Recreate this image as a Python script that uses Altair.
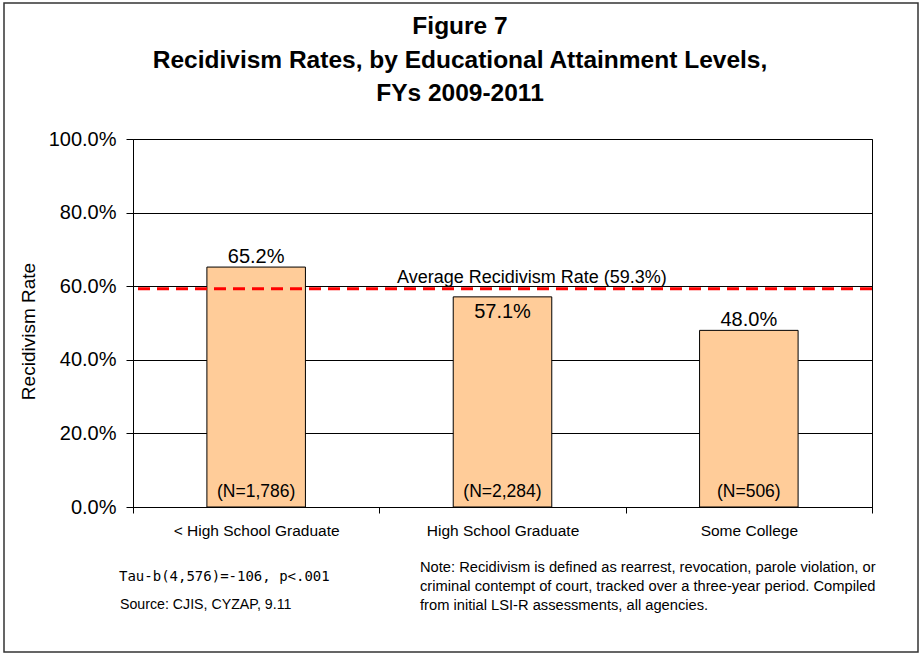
import json

import altair as alt
import pandas as pd

# --- data -------------------------------------------------------------------
categories = ["< High School Graduate", "High School Graduate", "Some College"]
rates = [0.652, 0.571, 0.480]
sample_sizes = ["1,786", "2,284", "506"]
average_rate = 0.593
y_ticks = [0.0, 0.2, 0.4, 0.6, 0.8, 1.0]

title_lines = [
    "Figure 7",
    "Recidivism Rates, by Educational Attainment Levels,",
    "FYs 2009-2011",
]
stat_line = "Tau-b(4,576)=-106, p<.001"
source_line = "Source: CJIS, CYZAP, 9.11"
note_lines = [
    "Note: Recidivism is defined as rearrest, revocation, parole violation, or",
    "criminal contempt of court, tracked over a three-year period. Compiled",
    "from initial LSI-R assessments, all agencies.",
]
# value label drawn just inside the top of the bar instead of above it
inside_label = ["High School Graduate"]

df = pd.DataFrame({"category": categories, "rate": rates, "n": sample_sizes})
avg_df = pd.DataFrame(
    {"rate": [average_rate], "label": [f"Average Recidivism Rate ({average_rate:.1%})"]}
)

FONT = "Liberation Sans"
W, H = 739, 368

x_enc = alt.X(
    "category:N",
    sort=categories,
    scale=alt.Scale(paddingInner=0, paddingOuter=0),
    axis=alt.Axis(
        title=None,
        labelAngle=0,
        tickBand="extent",
        tickSize=6,
        labelPadding=10,
        labelFontSize=15.5,
        labelFont=FONT,
        labelColor="black",
        tickColor="black",
        domainColor="black",
        grid=False,
    ),
)
y_enc = alt.Y(
    "rate:Q",
    scale=alt.Scale(domain=[0, 1], nice=False),
    axis=alt.Axis(
        values=y_ticks,
        format=".1%",
        title="Recidivism Rate",
        titleFont=FONT,
        titleFontSize=19,
        titleFontWeight="normal",
        titleColor="black",
        titlePadding=10,
        titleY=192,
        labelFont=FONT,
        labelFontSize=20,
        labelColor="black",
        labelPadding=10,
        tickSize=7,
        tickColor="black",
        domainColor="black",
        grid=True,
        gridColor="black",
        gridOpacity=1,
    ),
)

base = alt.Chart(df).encode(x=x_enc)

bars = base.mark_bar(
    width=alt.RelativeBandSize(0.4), color="#FFCC99", stroke="black", strokeWidth=1
).encode(y=y_enc)

inside_expr = "indexof(%s, datum.category) >= 0" % json.dumps(inside_label)

labels_above = base.transform_filter("!(" + inside_expr + ")").mark_text(
    baseline="alphabetic", dy=-4, fontSize=20, font=FONT, color="black"
).encode(y="rate:Q", text=alt.Text("rate:Q", format=".1%"))

labels_inside = base.transform_filter(inside_expr).mark_text(
    baseline="alphabetic", dy=21, fontSize=20, font=FONT, color="black"
).encode(y="rate:Q", text=alt.Text("rate:Q", format=".1%"))

n_labels = base.transform_calculate(
    n_label="'(N=' + datum.n + ')'"
).mark_text(
    baseline="alphabetic", dy=-10, fontSize=17.5, font=FONT, color="black"
).encode(y=alt.datum(0), text="n_label:N")

avg_rule = alt.Chart(avg_df).mark_rule(
    color="#FF0000", strokeDash=[12, 7], strokeWidth=3
).encode(y="rate:Q")

avg_label = alt.Chart(avg_df).mark_text(
    align="left", baseline="alphabetic", dy=-6, fontSize=18, font=FONT, color="black"
).encode(x=alt.value(264), y="rate:Q", text="label:N")

# heading above the plot
title_text = alt.Chart(pd.DataFrame({"t": [title_lines]})).mark_text(
    align="center", baseline="alphabetic", fontSize=24.5, fontWeight="bold",
    font=FONT, color="black", lineHeight=33.5
).encode(x=alt.value(327), y=alt.value(-105), text="t")

# footnotes below the plot
stat_text = alt.Chart(pd.DataFrame({"t": [stat_line]})).mark_text(
    align="left", baseline="middle", fontSize=14, font="DejaVu Sans Mono", color="black"
).encode(x=alt.value(-14), y=alt.value(438), text="t:N")

source_text = alt.Chart(pd.DataFrame({"t": [source_line]})).mark_text(
    align="left", baseline="middle", fontSize=14.2, font=FONT, color="black"
).encode(x=alt.value(-13), y=alt.value(466), text="t:N")

note_text = alt.Chart(pd.DataFrame({"t": [note_lines]})).mark_text(
    align="left", baseline="middle", fontSize=14.7, font=FONT, color="black", lineHeight=19
).encode(x=alt.value(287), y=alt.value(429), text="t")

# outer frame around the whole figure
frame = alt.Chart(pd.DataFrame({"a": [0]})).mark_rect(
    fillOpacity=0, stroke="#333333", strokeWidth=1.5
).encode(x=alt.value(-129), x2=alt.value(785), y=alt.value(-136), y2=alt.value(513))

chart = (
    alt.layer(
        frame,
        bars,
        avg_rule,
        labels_above,
        labels_inside,
        n_labels,
        avg_label,
        title_text,
        stat_text,
        source_text,
        note_text,
    )
    .properties(
        width=W,
        height=H,
        autosize=alt.AutoSizeParams(type="none"),
        padding={"left": 133, "top": 139, "right": 48, "bottom": 149},
    )
    .configure(background="white")
    .configure_view(stroke="black", strokeWidth=1)
)

chart.save("out.html", embed_options={"renderer": "svg", "actions": False})
